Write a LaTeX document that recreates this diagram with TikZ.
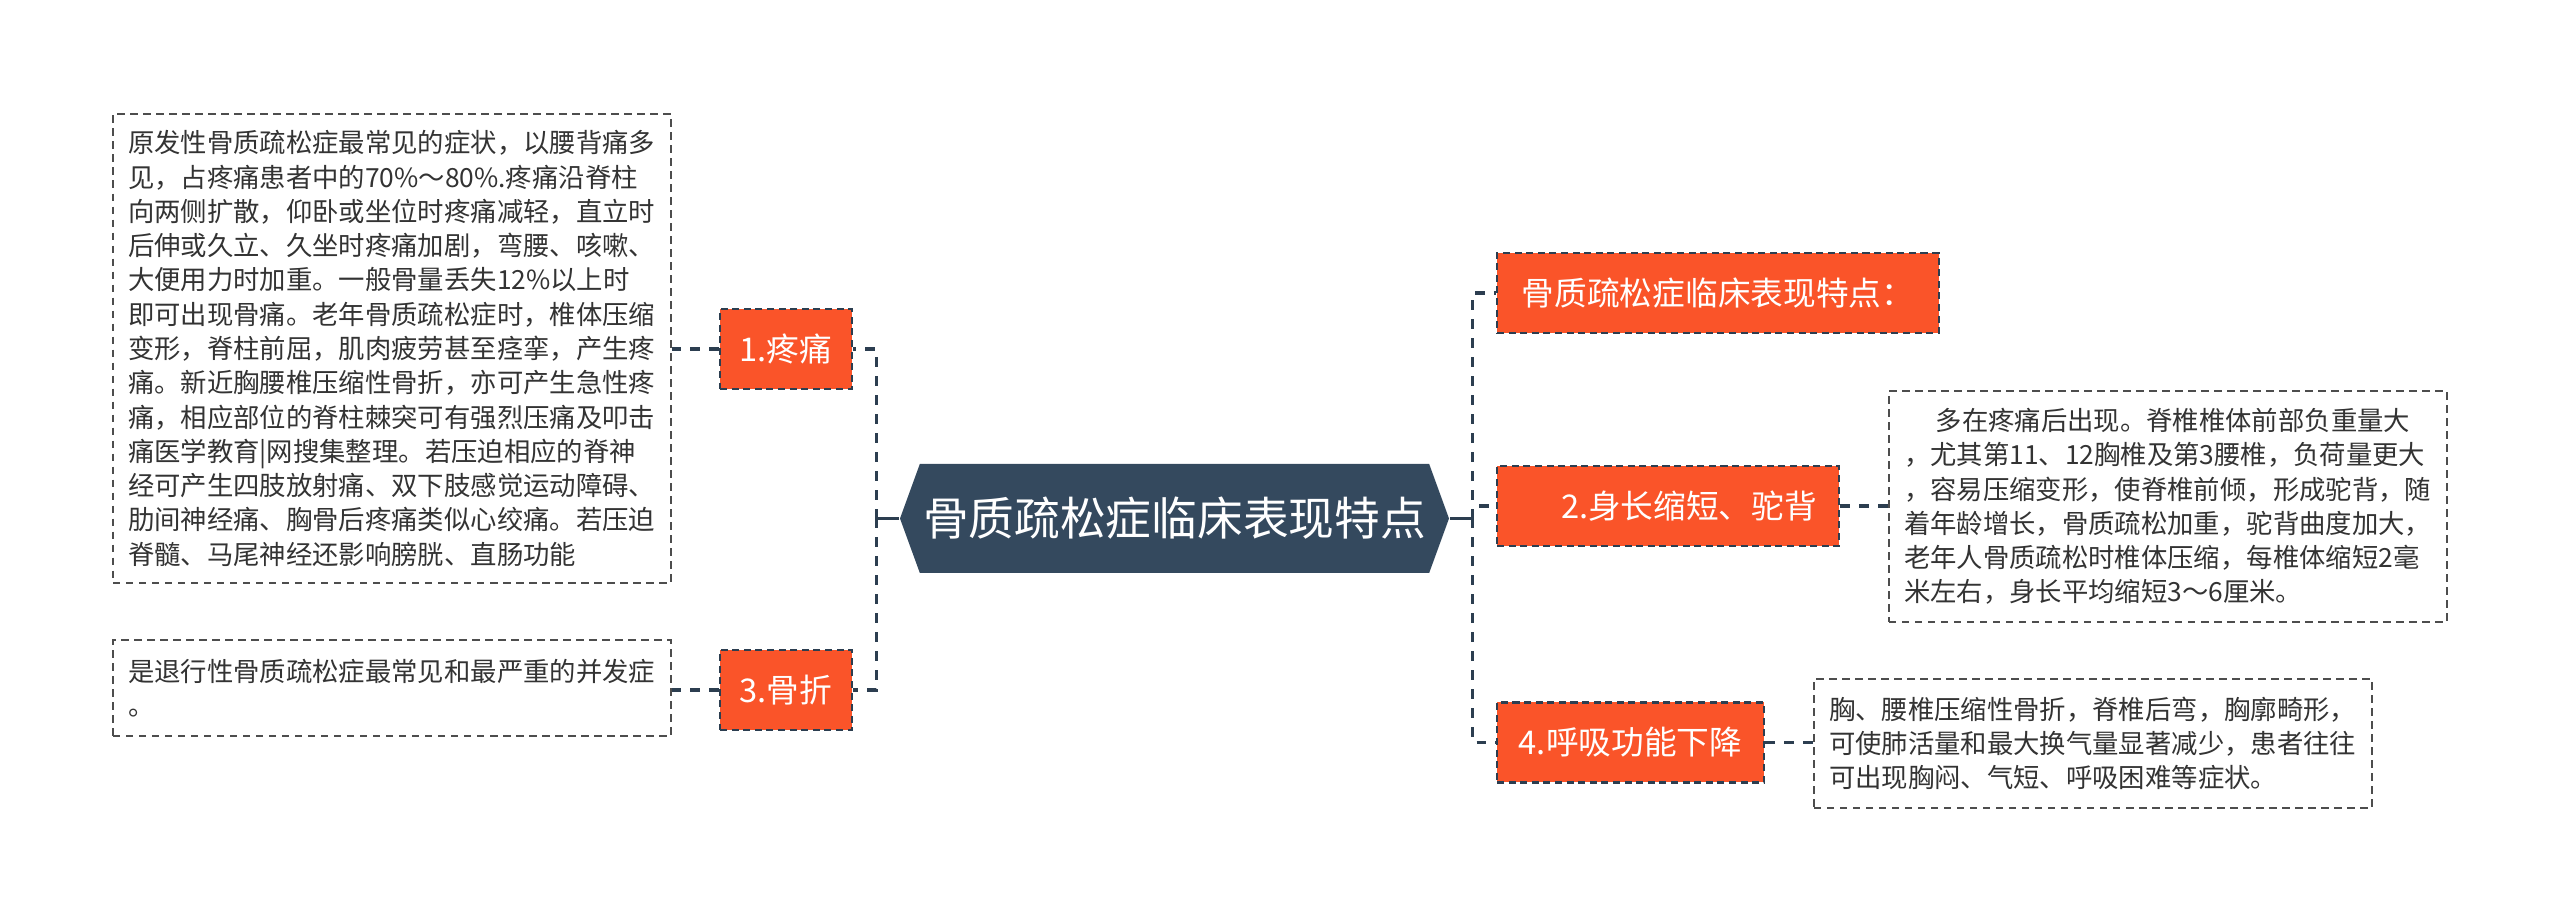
\documentclass[tikz,border=0pt]{standalone}
\usepackage{fontspec}
\setmainfont{Noto Sans CJK SC}
\usepackage{xcolor}
\usepackage{tikz}
\usetikzlibrary{shapes.symbols}
\definecolor{rootslate}{HTML}{34495E}
\definecolor{linkdark}{HTML}{2C3E50}
\definecolor{topicorange}{HTML}{FA5429}
\definecolor{noteline}{HTML}{4D4D4D}
\definecolor{notetext}{HTML}{333333}
\tikzset{
  rootbox/.style={
    signal,
    signal to=west and east,
    signal pointer angle=140,
    fill=rootslate,
    text=white,
    minimum width=5.49cm,
    minimum height=1.09cm,
    inner sep=0pt,
    font=\fontsize{13pt}{15pt}\selectfont
  },
  topicbox/.style={
    fill=topicorange,
    draw=linkdark,
    dash pattern=on 2pt off 1.3pt,
    line width=0.75pt,
    text=white,
    minimum height=0.8cm,
    inner sep=0pt,
    font=\fontsize{9.3pt}{11pt}\selectfont
  },
  notebox/.style={
    draw=noteline,
    dash pattern=on 2.1pt off 1.6pt,
    line width=0.6pt,
    fill=white,
    text=notetext,
    text width=5.28cm,
    inner xsep=0.15cm,
    inner ysep=0pt,
    align=left,
    font=\fontsize{7.5pt}{9.75pt}\selectfont
  },
  link/.style={draw=linkdark, line width=0.95pt, dash pattern=on 2.8pt off 2.6pt},
  stem/.style={draw=linkdark, line width=0.95pt}
}

\begin{document}
\begin{tikzpicture}[x=1cm,y=1cm]
  \useasboundingbox (0,0) rectangle (25.6,-9.22);

  \node[rootbox] (root) at (11.745,-5.185) {骨质疏松症临床表现特点};

  % left branch
  \node[topicbox, minimum width=1.32cm] (pain) at (7.86,-3.49) {1.疼痛};
  \node[topicbox, minimum width=1.32cm] (fracture) at (7.86,-6.90) {3.骨折};

  \node[notebox, minimum height=4.69cm] (painnote) at (3.92,-3.485) {
    原发性骨质疏松症最常见的症状，以腰背痛多\\
    见，占疼痛患者中的70\%～80\%.疼痛沿脊柱\\
    向两侧扩散，仰卧或坐位时疼痛减轻，直立时\\
    后伸或久立、久坐时疼痛加剧，弯腰、咳嗽、\\
    大便用力时加重。一般骨量丢失12\%以上时\\
    即可出现骨痛。老年骨质疏松症时，椎体压缩\\
    变形，脊柱前屈，肌肉疲劳甚至痉挛，产生疼\\
    痛。新近胸腰椎压缩性骨折，亦可产生急性疼\\
    痛，相应部位的脊柱棘突可有强烈压痛及叩击\\
    痛医学教育|网搜集整理。若压迫相应的脊神\\
    经可产生四肢放射痛、双下肢感觉运动障碍、\\
    肋间神经痛、胸骨后疼痛类似心绞痛。若压迫\\
    脊髓、马尾神经还影响膀胱、直肠功能
  };
  \node[notebox, minimum height=0.96cm] (fracturenote) at (3.92,-6.88) {
    是退行性骨质疏松症最常见和最严重的并发症\\
    。
  };

  % right branch
  \node[topicbox, minimum width=4.42cm] (head) at (17.18,-2.93) {骨质疏松症临床表现特点：};
  \node[topicbox, minimum width=3.42cm] (height) at (16.68,-5.06) {\hspace*{0.42cm}2.身长缩短、驼背};
  \node[topicbox, minimum width=2.67cm] (breath) at (16.305,-7.425) {4.呼吸功能下降};

  \node[notebox, minimum height=2.31cm] (heightnote) at (21.68,-5.065) {
    \hspace*{1.2em}多在疼痛后出现。脊椎椎体前部负重量大\\
    ，尤其第11、12胸椎及第3腰椎，负荷量更大\\
    ，容易压缩变形，使脊椎前倾，形成驼背，随\\
    着年龄增长，骨质疏松加重，驼背曲度加大，\\
    老年人骨质疏松时椎体压缩，每椎体缩短2毫\\
    米左右，身长平均缩短3～6厘米。
  };
  \node[notebox, minimum height=1.29cm] (breathnote) at (20.93,-7.435) {
    胸、腰椎压缩性骨折，脊椎后弯，胸廓畸形，\\
    可使肺活量和最大换气量显著减少，患者往往\\
    可出现胸闷、气短、呼吸困难等症状。
  };

  \coordinate (lfork) at ([xshift=-0.23cm]root.west);
  \coordinate (rfork) at ([xshift=0.23cm]root.east);

  \draw[stem] (root.west) -- (lfork);
  \draw[stem] (root.east) -- (rfork);
  \draw[link] (lfork) |- (pain.east);
  \draw[link] (lfork) |- (fracture.east);
  \draw[link] (rfork) |- (head.west);
  \draw[link] (rfork) |- (height.west);
  \draw[link] (rfork) |- (breath.west);

  \draw[link] (pain.west) -- (pain.west -| painnote.east);
  \draw[link] (fracture.west) -- (fracture.west -| fracturenote.east);
  \draw[link] (height.east) -- (height.east -| heightnote.west);
  \draw[link] (breath.east) -- (breath.east -| breathnote.west);
\end{tikzpicture}
\end{document}
